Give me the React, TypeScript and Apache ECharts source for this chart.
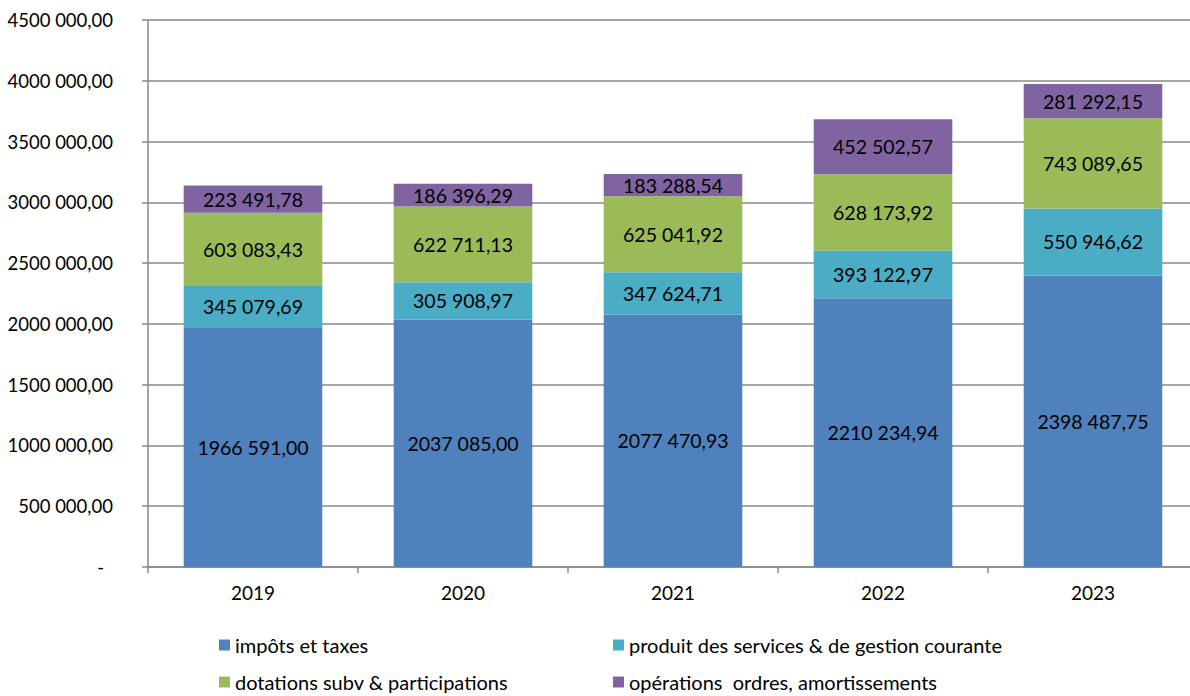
import React, { useEffect, useRef } from "react";
import * as echarts from "echarts";

const years = ["2019", "2020", "2021", "2022", "2023"];
const seriesNames = [
  "impôts et taxes",
  "produit des services & de gestion courante",
  "dotations subv & participations",
  "opérations  ordres, amortissements",
];
const impots = [1966591.0, 2037085.0, 2077470.93, 2210234.94, 2398487.75];
const produits = [345079.69, 305908.97, 347624.71, 393122.97, 550946.62];
const dotations = [603083.43, 622711.13, 625041.92, 628173.92, 743089.65];
const operations = [223491.78, 186396.29, 183288.54, 452502.57, 281292.15];
const colors = ["#4F81BD", "#4BACC6", "#9BBB59", "#8064A2"];

const FONT = "Lato, 'Open Sans', sans-serif";

function fmt(v: number): string {
  const fixed = v.toFixed(2);
  const [intPart, dec] = fixed.split(".");
  let ip = intPart;
  if (ip.length > 3) ip = ip.slice(0, ip.length - 3) + " " + ip.slice(ip.length - 3);
  return ip + "," + dec;
}

const legendPos = [
  { left: 219, top: 635 },
  { left: 613, top: 635 },
  { left: 219, top: 672 },
  { left: 613, top: 672 },
];

export default function App() {
  const ref = useRef<HTMLDivElement>(null);
  useEffect(() => {
    if (!ref.current) return;
    const chart = echarts.init(ref.current, null, { renderer: "svg" });
    const all = [impots, produits, dotations, operations];
    chart.setOption({
      animation: false,
      textStyle: { fontFamily: FONT },
      grid: { left: 148, top: 20, width: 1050, height: 547, containLabel: false },
      legend: seriesNames.map((n, i) => ({
        data: [n],
        left: legendPos[i].left,
        top: legendPos[i].top,
        padding: 0,
        itemWidth: 11,
        itemHeight: 11,
        icon: "rect",
        textStyle: { fontSize: 20, color: "#000", fontFamily: FONT, lineHeight: 20 },
      })),
      xAxis: {
        type: "category",
        data: years,
        axisLine: { lineStyle: { color: "#888", width: 1.5 } },
        axisTick: { show: true, length: 6, lineStyle: { color: "#888", width: 1.5 } },
        axisLabel: { color: "#000", fontSize: 19, margin: 16, fontFamily: FONT },
      },
      yAxis: {
        type: "value",
        min: 0,
        max: 4500000,
        interval: 500000,
        axisLine: { show: true, lineStyle: { color: "#888", width: 1.5 } },
        axisTick: { show: true, length: 6, lineStyle: { color: "#888", width: 1.5 } },
        splitLine: { lineStyle: { color: "#888", width: 1.5 } },
        axisLabel: {
          color: "#000",
          fontSize: 18.5,
          margin: 35,
          fontFamily: FONT,
          formatter: (v: number) => (v === 0 ? "{d|-}" : fmt(v)),
          rich: { d: { fontSize: 18.5, color: "#000", fontFamily: FONT, padding: [0, 9, 0, 0] } },
        },
      },
      series: all.map((d, i) => ({
        name: seriesNames[i],
        type: "bar",
        stack: "total",
        data: d,
        barWidth: "66%",
        itemStyle: { color: colors[i] },
        label: {
          show: true,
          position: "inside",
          color: "#000",
          fontSize: 19.5,
          fontFamily: FONT,
          formatter: (p: any) => fmt(p.value),
        },
      })),
    });
    return () => chart.dispose();
  }, []);
  return (
    <div style={{ position: "absolute", left: 0, top: 0, width: 1190, height: 696, overflow: "hidden" }}>
      <div ref={ref} style={{ width: 1200, height: 696 }} />
    </div>
  );
}
